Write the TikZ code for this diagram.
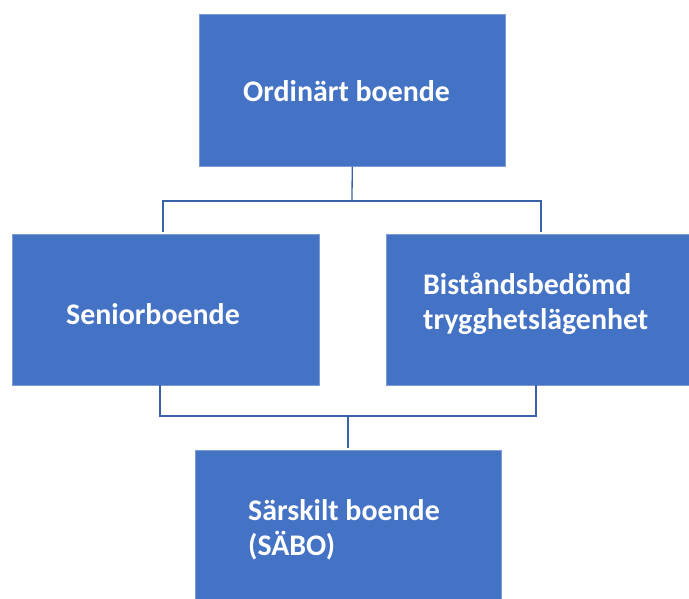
\documentclass[tikz,border=0pt]{standalone}
\usepackage{fontspec}
\setmainfont{Carlito}
\definecolor{boxblue}{HTML}{4472C4}
\definecolor{lineblue}{HTML}{3A62A8}
\begin{document}
\begin{tikzpicture}[x=1pt,y=-1pt,
  box/.style={draw=boxblue!70!white,line width=0.5pt,fill=boxblue,anchor=north west,inner sep=0pt},
  lbl/.style={anchor=base west,inner sep=0pt,text=white,font=\fontsize{29.9}{35}\selectfont\bfseries,align=left},
  conn/.style={draw=lineblue,line width=1.3pt}]
\useasboundingbox (0,0) rectangle (689,598);
\node[box,minimum width=306pt,minimum height=152pt] (top) at (199,14) {};
\node[box,minimum width=307pt,minimum height=151pt] (left) at (12,234) {};
\node[box,minimum width=304pt,minimum height=151pt] (right) at (386,234) {};
\node[box,minimum width=306pt,minimum height=150pt] (bottom) at (195,450) {};
\node[lbl] (ttop) at (243,101) {Ordinärt boende};
\node[lbl] (tleft) at (66,324) {Seniorboende};
\node[lbl] (tright) at (423,329) {Biståndsbedömd\\trygghetslägenhet};
\node[lbl] (tbottom) at (248,555) {Särskilt boende\\(SÄBO)};
\coordinate (a) at (352,201);
\coordinate (aL) at (163,201);
\coordinate (aR) at (541,201);
\coordinate (aLe) at (163,232);
\coordinate (aRe) at (541,232);
\coordinate (b) at (348,416);
\coordinate (bL) at (160,416);
\coordinate (bR) at (536,416);
\coordinate (bLs) at (160,385);
\coordinate (bRs) at (536,385);
\coordinate (bE) at (348,448);
\draw[conn] (top.south) -- (a);
\draw[conn] (aLe) -- (aL) -- (aR) -- (aRe);
\draw[conn] (bLs) -- (bL) -- (bR) -- (bRs);
\draw[conn] (b) -- (bE);
\end{tikzpicture}
\end{document}
